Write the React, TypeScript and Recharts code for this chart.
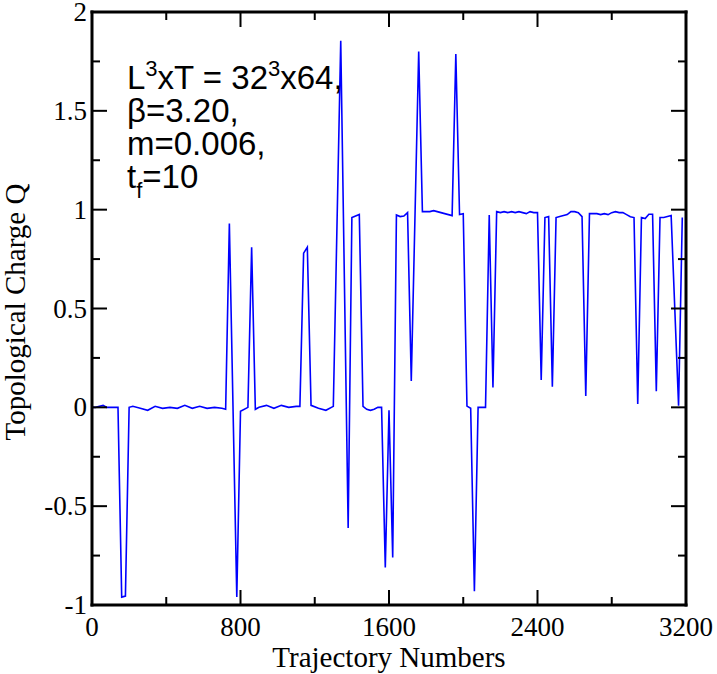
import { LineChart, Line, XAxis, YAxis } from "recharts";

// trajectory number (x) and topological charge (y)
const traj = [
  0, 20, 40, 60, 80, 100, 120, 140, 160, 180, 200, 220, 260, 300, 340, 380, 420, 460, 500, 540,
  580, 620, 660, 700, 720, 740, 780, 800, 840, 860, 880, 900, 940, 980, 1020, 1060, 1100, 1120,
  1140, 1160, 1180, 1220, 1260, 1300, 1340, 1380, 1400, 1440, 1460, 1480, 1500, 1520, 1540, 1560,
  1580, 1600, 1620, 1640, 1660, 1680, 1700, 1720, 1760, 1780, 1800, 1820, 1840, 1860, 1880, 1900,
  1920, 1940, 1960, 1980, 2000, 2020, 2040, 2060, 2080, 2100, 2120, 2140, 2160, 2180, 2200, 2220,
  2240, 2260, 2280, 2300, 2320, 2340, 2360, 2380, 2400, 2420, 2440, 2460, 2480, 2500, 2520, 2540,
  2560, 2580, 2600, 2620, 2640, 2660, 2680, 2700, 2720, 2740, 2760, 2780, 2800, 2820, 2840, 2860,
  2880, 2900, 2920, 2940, 2960, 2980, 3000, 3020, 3040, 3060, 3080, 3100, 3120, 3160, 3180,
];

const charge = [
  0.0, 0.0, 0.005, 0.01, 0.0, 0.0, 0.0, 0.0, -0.96, -0.955, 0.0, 0.005, -0.005, -0.015, 0.005,
  -0.005, 0.0, -0.005, 0.01, -0.005, 0.005, -0.005, 0.0, -0.005, -0.01, 0.93, -0.96, -0.02, 0.0,
  0.81, -0.01, 0.0, 0.01, -0.005, 0.01, 0.0, 0.005, 0.005, 0.78, 0.81, 0.01, -0.005, -0.015, 0.005,
  1.855, -0.61, 0.96, 0.976, 0.005, -0.01, -0.015, -0.01, 0.0, 0.0, -0.81, -0.015, -0.76, 0.973,
  0.965, 0.968, 0.985, 0.133, 1.8, 0.99, 0.99, 0.99, 0.995, 0.99, 0.985, 0.98, 0.975, 0.97, 1.787,
  0.976, 0.98, 0.006, -0.005, -0.93, 0.0, 0.0, 0.0, 0.973, 0.1, 0.99, 0.985, 0.99, 0.985, 0.99,
  0.985, 0.99, 0.985, 0.98, 0.99, 0.985, 0.985, 0.138, 0.96, 0.965, 0.104, 0.96, 0.965, 0.97,
  0.975, 0.99, 0.99, 0.985, 0.965, 0.057, 0.98, 0.98, 0.98, 0.975, 0.98, 0.975, 0.985, 0.99,
  0.985, 0.985, 0.975, 0.964, 0.96, 0.017, 0.96, 0.955, 0.977, 0.977, 0.082, 0.96, 0.96, 0.965,
  0.97, 0.008, 0.96,
];

const xTicks = [0, 400, 800, 1200, 1600, 2000, 2400, 2800, 3200];
const yTicks = [-1, -0.75, -0.5, -0.25, 0, 0.25, 0.5, 0.75, 1, 1.25, 1.5, 1.75, 2];

const data = traj.map((t, i) => ({ t, q: charge[i] }));

const serif = "'Liberation Serif', 'Times New Roman', serif";
const sans = "'Liberation Sans', Arial, sans-serif";
const frame = { stroke: "#000", strokeWidth: 3, strokeLinecap: "square" as const };

const isMajorX = (v: number) => v % 800 === 0;
const isMajorY = (v: number) => Math.abs(v * 2 - Math.round(v * 2)) < 1e-9;

function BottomTick({ x, y, payload }: any) {
  const major = isMajorX(payload.value);
  return (
    <g>
      <line x1={x} x2={x} y1={y} y2={y - (major ? 15 : 8)} stroke="#000" strokeWidth={2} />
      {major && (
        <text x={x} y={y + 31} textAnchor="middle" fontFamily={serif} fontSize={27} fill="#000">
          {payload.value}
        </text>
      )}
    </g>
  );
}

function TopTick({ x, y, payload }: any) {
  const major = isMajorX(payload.value);
  return <line x1={x} x2={x} y1={y} y2={y + (major ? 15 : 8)} stroke="#000" strokeWidth={2} />;
}

function LeftTick({ x, y, payload }: any) {
  const major = isMajorY(payload.value);
  return (
    <g>
      <line x1={x} x2={x + (major ? 15 : 8)} y1={y} y2={y} stroke="#000" strokeWidth={2} />
      {major && (
        <text x={x - 5} y={y + 9} textAnchor="end" fontFamily={serif} fontSize={27} fill="#000">
          {String(payload.value)}
        </text>
      )}
    </g>
  );
}

function RightTick({ x, y, payload }: any) {
  const major = isMajorY(payload.value);
  return <line x1={x} x2={x - (major ? 15 : 8)} y1={y} y2={y} stroke="#000" strokeWidth={2} />;
}

export default function App() {
  return (
    <div style={{ position: "absolute", left: 0, top: 0, width: 717, height: 674, background: "#fff" }}>
      <LineChart width={717} height={674} data={data} margin={{ top: 11, right: 30, bottom: 0, left: 0 }}>
        <XAxis
          dataKey="t"
          type="number"
          domain={[0, 3200]}
          ticks={xTicks}
          interval={0}
          height={69}
          tickSize={0}
          tickMargin={0}
          tickLine={false}
          axisLine={frame}
          tick={<BottomTick />}
        />
        <XAxis
          xAxisId="top"
          orientation="top"
          dataKey="t"
          type="number"
          domain={[0, 3200]}
          ticks={xTicks}
          interval={0}
          height={1}
          tickSize={0}
          tickMargin={0}
          tickLine={false}
          axisLine={frame}
          tick={<TopTick />}
        />
        <YAxis
          type="number"
          domain={[-1, 2]}
          ticks={yTicks}
          interval={0}
          width={92}
          tickSize={0}
          tickMargin={0}
          tickLine={false}
          axisLine={frame}
          tick={<LeftTick />}
        />
        <YAxis
          yAxisId="right"
          orientation="right"
          type="number"
          domain={[-1, 2]}
          ticks={yTicks}
          interval={0}
          width={1}
          tickSize={0}
          tickMargin={0}
          tickLine={false}
          axisLine={frame}
          tick={<RightTick />}
        />
        {/* invisible copy so the top and right frame axes have a series */}
        <Line
          xAxisId="top"
          yAxisId="right"
          type="linear"
          dataKey="q"
          stroke="none"
          dot={false}
          activeDot={false}
          isAnimationActive={false}
        />
        <Line
          type="linear"
          dataKey="q"
          stroke="#0000ff"
          strokeWidth={1.6}
          dot={false}
          isAnimationActive={false}
        />
      </LineChart>
      <svg
        width={717}
        height={674}
        style={{ position: "absolute", left: 0, top: 0, pointerEvents: "none" }}
      >
        <g fontFamily={sans} fontSize={33} fill="#000">
          <text x={127} y={89}>
            L<tspan dy={-13} fontSize={22}>3</tspan>
            <tspan dy={13}>xT = 32</tspan>
            <tspan dy={-13} fontSize={22}>3</tspan>
            <tspan dy={13}>x64,</tspan>
          </text>
          <text x={127} y={122}>β=3.20,</text>
          <text x={127} y={155}>m=0.006,</text>
          <text x={127} y={188}>
            t<tspan dy={10} fontSize={22}>f</tspan>
            <tspan dy={-10}>=10</tspan>
          </text>
        </g>
        <text x={389} y={667} textAnchor="middle" fontFamily={serif} fontSize={29} fill="#000">
          Trajectory Numbers
        </text>
        <text
          transform="translate(25,312) rotate(-90)"
          textAnchor="middle"
          fontFamily={serif}
          fontSize={29}
          fill="#000"
        >
          Topological Charge Q
        </text>
      </svg>
    </div>
  );
}
